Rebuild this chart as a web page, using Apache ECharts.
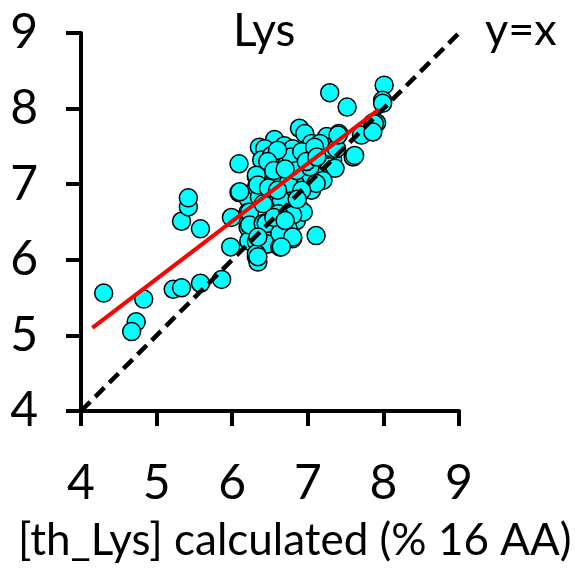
<!DOCTYPE html>
<html>
<head>
<meta charset="utf-8">
<script src="https://cdn.jsdelivr.net/npm/echarts@6/dist/echarts.min.js"></script>
<style>html,body{margin:0;padding:0;background:#fff;}#c{width:577px;height:573px;}</style>
</head>
<body>
<div id="c"></div>
<script>
var xTicks = [4, 5, 6, 7, 8, 9];
var yTicks = [4, 5, 6, 7, 8, 9];
var points = [
[4.30,5.56],[4.83,5.48],[4.73,5.18],[4.67,5.05],[5.22,5.61],[5.33,5.63],[5.58,5.69],[5.86,5.74],
[5.33,6.51],[5.42,6.70],[5.42,6.82],[5.58,6.41],[5.98,6.17],[5.99,6.56],[6.09,7.27],[6.09,6.89],
[6.21,6.81],[6.21,6.63],[6.21,6.43],[6.22,6.25],[6.32,6.04],[6.34,5.97],[6.47,6.21],[6.32,7.10],[6.32,6.96],
[7.29,8.21],[7.52,8.02],[8.01,8.31],[7.99,8.11],[7.99,8.07],[7.86,7.81],[7.91,7.81],[7.71,7.65],[7.60,7.36],[7.41,7.67],[7.25,7.63],[7.11,6.32],
[6.56,7.59],[6.89,7.74],[6.96,7.67],[7.05,7.54],[6.36,7.49],[6.43,7.47],[6.69,7.51],[6.80,7.47],[6.39,7.32],[6.63,7.27],[6.78,7.36],[6.92,7.43],
[7.33,7.32],[7.29,7.23],[7.36,7.21],[7.16,7.10],[7.20,7.05],[7.03,7.07],[6.92,7.10],[6.83,7.01],[6.72,7.05],[6.58,7.03],[6.41,7.10],
[6.10,6.90],[6.36,6.83],[6.52,6.88],[6.65,6.81],[6.78,6.96],[6.89,6.88],[6.89,6.68],[6.76,6.65],[6.65,6.68],[6.50,6.72],[6.23,6.63],
[6.23,6.46],[6.41,6.48],[6.54,6.41],[6.65,6.39],[6.74,6.37],[6.80,6.28],[6.65,6.32],[6.32,6.24],[6.47,6.21],[6.63,6.17],[6.32,6.08],
[6.85,6.52],[6.94,6.63],[7.05,6.92],[7.11,7.01],[7.27,7.49],[7.16,7.54],[7.38,7.47],[7.88,7.80],[7.86,7.69],[7.62,7.38],[7.40,7.65],
[6.32,7.12],[6.34,6.99],[6.56,7.05],[6.74,7.01],[6.85,7.18],[7.03,7.23],[7.09,7.49],[6.41,6.74],[6.65,6.79],[6.92,6.92],[6.80,6.59],
[6.61,6.61],[6.45,6.48],[6.74,6.41],[6.34,6.30],[6.63,6.35],[6.80,6.30],[6.65,6.17],[6.34,6.04],[6.52,7.38],[6.60,7.45],[6.47,7.30],
[6.55,7.18],[6.70,7.20],[6.48,6.95],[6.60,6.92],[6.98,7.30],[7.12,7.36],[6.86,6.80],[6.55,6.56],[6.70,6.52]
];
var identityLine = [[4, 4], [9, 9]];
var fitLine = [[4.15, 5.10], [7.94, 7.99]];
var titleText = 'Lys';
var identityLabel = 'y=x';
var xName = '[th_Lys] calculated (% 16 AA)';

var FONT = 'Lato';
var chart = echarts.init(document.getElementById('c'), null, {renderer: 'canvas'});
var axisCommon = {
  type: 'value', min: 4, max: 9, interval: 1,
  splitLine: {show: false},
  axisLine: {show: true, onZero: false, lineStyle: {color: '#000', width: 4}},
  axisTick: {show: true, inside: false, length: 15, lineStyle: {color: '#000', width: 4}},
  axisLabel: {color: '#000', fontFamily: FONT, fontSize: 48}
};
chart.setOption({
  animation: false,
  backgroundColor: '#fff',
  title: [
    {text: titleText, left: 228, top: 3, textStyle: {fontFamily: FONT, fontSize: 46, fontWeight: 'normal', color: '#000'}},
    {text: identityLabel, left: 480, top: 3, textStyle: {fontFamily: FONT, fontSize: 45, fontWeight: 'normal', color: '#000'}},
    {text: xName, left: 13, top: 514, textStyle: {fontFamily: FONT, fontSize: 44, fontWeight: 'normal', color: '#000'}}
  ],
  grid: {left: 81, right: 118, top: 33, bottom: 162, containLabel: false},
  xAxis: Object.assign({}, axisCommon, {
    axisLabel: Object.assign({}, axisCommon.axisLabel, {margin: 49})
  }),
  yAxis: Object.assign({}, axisCommon, {
    axisLabel: Object.assign({}, axisCommon.axisLabel, {margin: 43})
  }),
  series: [
    {
      type: 'scatter', data: points, symbol: 'circle', symbolSize: 18, z: 2,
      itemStyle: {color: '#00FFFF', borderColor: '#000', borderWidth: 1.5, opacity: 1}
    },
    {
      type: 'line', data: identityLine, symbol: 'none', z: 3,
      lineStyle: {color: '#000', width: 4.5, type: [13, 7]}
    },
    {
      type: 'line', data: fitLine, symbol: 'none', z: 4,
      lineStyle: {color: '#FF0000', width: 4}
    }
  ]
});
</script>
</body>
</html>
